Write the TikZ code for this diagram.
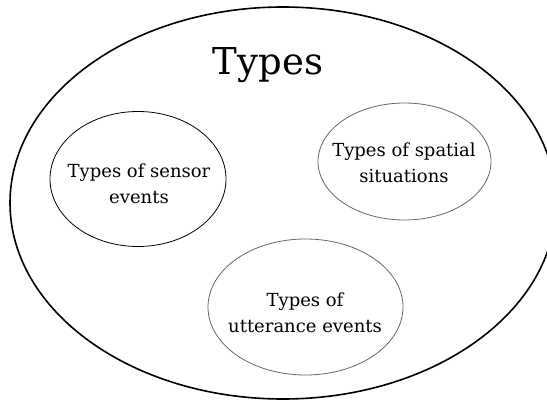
\documentclass[tikz,border=0pt]{standalone}
\usepackage{fontspec}
\setmainfont{DejaVu Serif}
\usetikzlibrary{shapes.geometric}
\begin{document}
\begin{tikzpicture}[x=1pt,y=-1pt,
  outerset/.style={draw=black, line width=1.6pt, ellipse, inner sep=0pt},
  innerset/.style={draw=#1, line width=0.8pt, ellipse, inner sep=0pt},
  lbl/.style={align=center, font=\fontsize{18}{26}\selectfont, inner sep=0pt},
  title/.style={font=\fontsize{37}{42}\selectfont, inner sep=0pt}]
\useasboundingbox (0,0) rectangle (547,402);
\node[outerset, minimum width=546pt, minimum height=392pt] (types) at (283,203) {};
\node[title] (ttl) at (268,65) {Types};
\node[innerset=black, minimum width=176pt, minimum height=135pt] (sensor) at (138,179) {};
\node[lbl] (sensorlbl) at (139,184) {Types of sensor\\events};
\node[innerset=black!60, minimum width=173pt, minimum height=117pt] (spatial) at (404.5,161.5) {};
\node[lbl] (spatiallbl) at (404,163) {Types of spatial\\situations};
\node[innerset=black!60, minimum width=195pt, minimum height=136pt] (utter) at (305.5,307) {};
\node[lbl] (utterlbl) at (305,313) {Types of\\utterance events};
\end{tikzpicture}
\end{document}
